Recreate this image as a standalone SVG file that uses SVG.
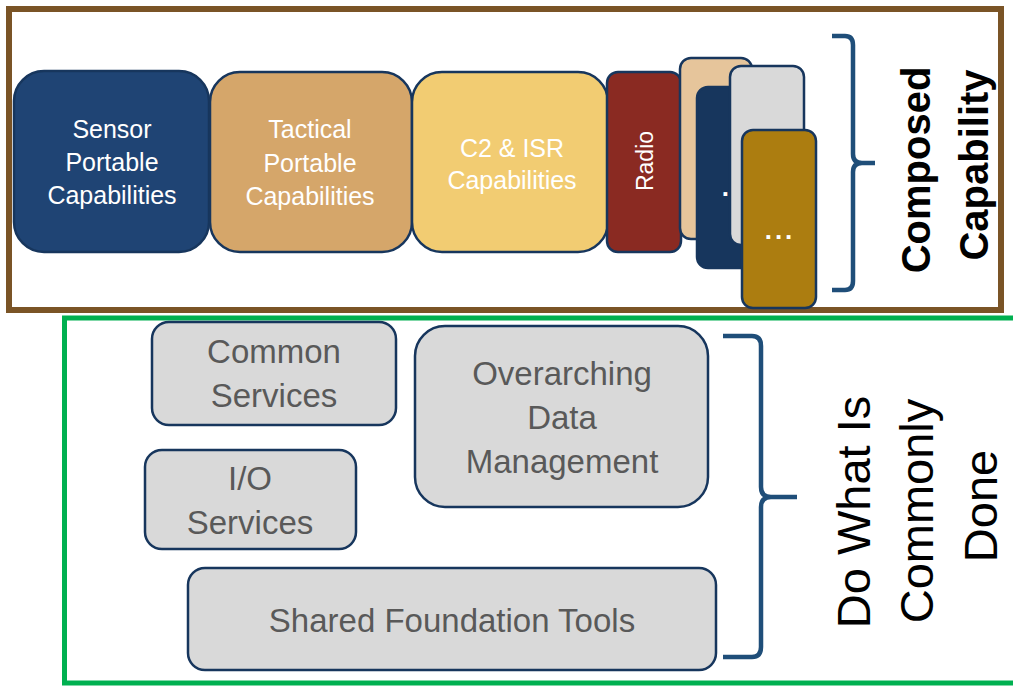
<svg xmlns="http://www.w3.org/2000/svg" width="1013" height="686" viewBox="0 0 1013 686">
<style>
.box{stroke:#17365D;stroke-width:2.5}
.wt{fill:#FFFFFF;font-family:"Liberation Sans",Arial,sans-serif;font-size:25px;text-anchor:middle}
.dots{fill:#FFFFFF;font-family:"Liberation Sans",Arial,sans-serif;font-size:26px;font-weight:bold;letter-spacing:3px;text-anchor:middle}
.gt{fill:#595959;font-family:"Liberation Sans",Arial,sans-serif;font-size:33px;text-anchor:middle}
.gbox{fill:#D9D9D9;stroke:#17365D;stroke-width:2.5}
.brace{fill:none;stroke:#1F4E79;stroke-width:4.5;stroke-linejoin:round}
.bt{fill:#000000;font-family:"Liberation Sans",Arial,sans-serif;font-weight:bold;font-size:40px;text-anchor:middle}
.rt{fill:#000000;font-family:"Liberation Sans",Arial,sans-serif;font-size:47px;text-anchor:middle}
</style>
<rect width="1013" height="686" fill="#FFFFFF"/>
<g id="frames">
<rect x="9" y="9" width="992" height="301" fill="none" stroke="#7A5426" stroke-width="6"/>
<rect x="64.5" y="318" width="960" height="365" fill="none" stroke="#00B050" stroke-width="5"/>
</g>
<g id="sensor">
<rect class="box" x="14" y="71" width="195" height="181" rx="30" fill="#1F4474"/>
<text class="wt" x="112" y="138">Sensor</text>
<text class="wt" x="112" y="171">Portable</text>
<text class="wt" x="112" y="204">Capabilities</text>
</g>
<g id="tactical">
<rect class="box" x="210" y="72" width="202" height="180" rx="30" fill="#D5A66A"/>
<text class="wt" x="310" y="138">Tactical</text>
<text class="wt" x="310" y="172">Portable</text>
<text class="wt" x="310" y="205">Capabilities</text>
</g>
<g id="c2isr">
<rect class="box" x="412" y="72" width="196" height="180" rx="30" fill="#F2CC72"/>
<text class="wt" x="512" y="157">C2 &amp; ISR</text>
<text class="wt" x="512" y="189">Capabilities</text>
</g>
<g id="radio">
<rect class="box" x="607" y="72" width="74" height="180" rx="11" fill="#8A2A22"/>
<text class="wt" transform="translate(653,161) rotate(-90)" x="0" y="0" style="font-size:23px">Radio</text>
</g>
<g id="tan">
<rect class="box" x="680" y="58" width="72" height="181" rx="11" fill="#E6C59B"/>
</g>
<g id="navy">
<rect class="box" x="697" y="87" width="78" height="181" rx="11" fill="#17365D"/>
<text class="dots" x="737" y="196">...</text>
</g>
<g id="grey">
<rect class="box" x="730" y="66" width="74" height="179" rx="11" fill="#D9D9D9"/>
</g>
<g id="gold">
<rect class="box" x="742" y="130" width="74" height="178" rx="11" fill="#AC7D10"/>
<text class="dots" x="780" y="239">...</text>
</g>
<g id="common-services">
<rect class="gbox" x="152" y="322" width="244" height="103" rx="17"/>
<text class="gt" x="274" y="363">Common</text>
<text class="gt" x="274" y="407">Services</text>
</g>
<g id="io-services">
<rect class="gbox" x="145" y="450" width="211" height="99" rx="17"/>
<text class="gt" x="250" y="490">I/O</text>
<text class="gt" x="250" y="534">Services</text>
</g>
<g id="data-management">
<rect class="gbox" x="415" y="326" width="293" height="181" rx="30"/>
<text class="gt" x="562" y="385">Overarching</text>
<text class="gt" x="562" y="429">Data</text>
<text class="gt" x="562" y="473">Management</text>
</g>
<g id="shared-tools">
<rect class="gbox" x="188" y="568" width="528" height="102" rx="17"/>
<text class="gt" x="452" y="632">Shared Foundation Tools</text>
</g>
<g id="connectors">
<path class="brace" d="M832,36 L845,36 Q853,36 853,45 L853,154 Q853,163 862,163 L875,163 M862,163 Q853,163 853,172 L853,281 Q853,290 845,290 L832,290"/>
<path class="brace" d="M723,336 L752,336 Q761,336 761,346 L761,487 Q761,497 771,497 L797,497 M771,497 Q761,497 761,507 L761,647 Q761,657 752,657 L723,657"/>
</g>
<g id="label-composed">
<text class="bt" transform="translate(930,170) rotate(-90)">Composed</text>
<text class="bt" transform="translate(988,165) rotate(-90)">Capability</text>
</g>
<g id="label-common">
<text class="rt" transform="translate(870,512) rotate(-90)">Do What Is</text>
<text class="rt" transform="translate(933,511) rotate(-90)">Commonly</text>
<text class="rt" transform="translate(997,506) rotate(-90)">Done</text>
</g>
</svg>
